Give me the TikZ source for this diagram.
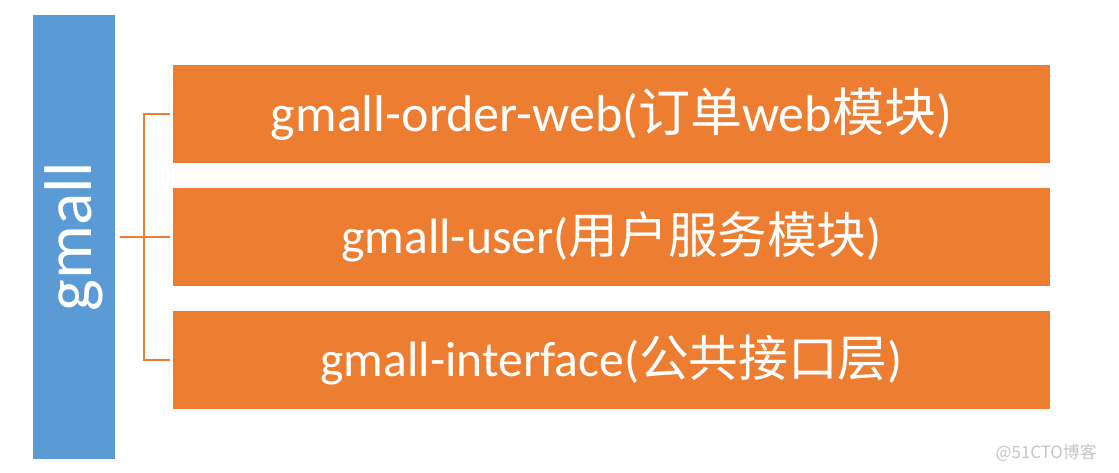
\documentclass[tikz,border=0pt]{standalone}
\usepackage{fontspec}
\setmainfont{Carlito}
\newfontfamily\cjk{Noto Sans CJK SC}
\usepackage{tikz}

\definecolor{gblue}{HTML}{5B9BD5}
\definecolor{gorange}{HTML}{ED7D31}
\definecolor{wmgray}{HTML}{C4C4C4}

\newcommand{\zh}[1]{{\cjk #1}}

\begin{document}
\begin{tikzpicture}[x=0.025cm,y=-0.025cm]
    \tikzset{
    root/.style={rectangle,fill=gblue,minimum width=2.05cm,minimum height=11.1cm,inner sep=0pt,text=white,font=\fontsize{48}{50}\selectfont},
    mod/.style={rectangle,fill=gorange,minimum width=21.925cm,minimum height=2.45cm,inner sep=0pt,text=white,font=\fontsize{35.3}{40}\selectfont},
    conn/.style={-, gorange, line width=1.6pt},
    }
    \useasboundingbox (0,0) rectangle (1119,473);

    \node[root] (gmall) at (74,237) {\rotatebox{90}{gmall}};
    \node[mod, font=\fontsize{37}{40}\selectfont] (m1) at (611.5,114) {gmall-order-web(\zh{订单}web\zh{模块})};
    \node[mod] (m2) at (611.5,237) {gmall-user(\zh{用户服务模块})};
    \node[mod] (m3) at (611.5,360) {gmall-interface(\zh{公共接口层})};
    \coordinate (hub) at (144,237);

    \draw[conn, shorten <=3pt] (gmall.east) -- (hub);
    \draw[conn, shorten <=2pt, shorten >=2pt] (m1.west) -| (hub) |- (m3.west);
    \draw[conn, shorten >=2pt] (hub) -- (m2.west);

    \node[anchor=east, text=wmgray, font=\cjk\fontsize{12}{14}\selectfont, inner sep=0pt] (mark) at (1097,453) {@51CTO博客};
\end{tikzpicture}
\end{document}
